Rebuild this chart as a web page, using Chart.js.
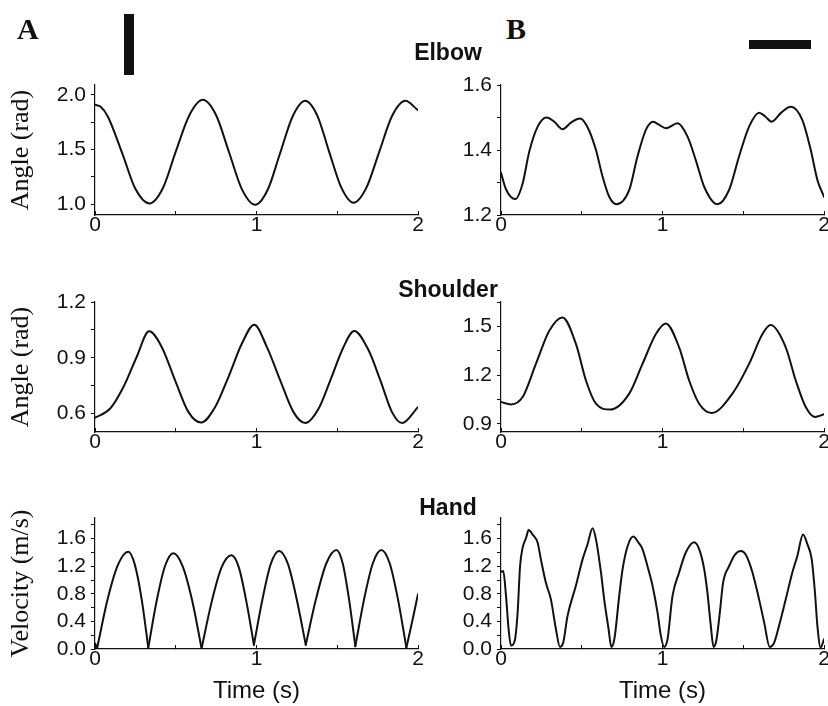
<!DOCTYPE html>
<html>
<head>
<meta charset="utf-8">
<script src="https://cdn.jsdelivr.net/npm/chart.js@4.4.1/dist/chart.umd.min.js"></script>
<style>
  html, body { margin: 0; padding: 0; background: #fff; overflow: hidden; }
  body { width: 828px; height: 706px; position: relative; }
  canvas { position: absolute; }
  .label { position: absolute; color: #111; white-space: nowrap; z-index: 2; }
  .joint { font: bold 23px "Liberation Sans", Arial, sans-serif; line-height: 23px; width: 200px; left: 348px; text-align: center; }
  .letter { font: bold 30px "Liberation Serif", "Times New Roman", serif; line-height: 30px; top: 14px; }
  .bar { position: absolute; background: #111; }
</style>
</head>
<body>

<canvas id="elbowA" width="440" height="190" style="left:0;top:60px"></canvas>
<canvas id="elbowB" width="400" height="190" style="left:440px;top:60px"></canvas>
<canvas id="shoulderA" width="440" height="190" style="left:0;top:277px"></canvas>
<canvas id="shoulderB" width="400" height="190" style="left:440px;top:277px"></canvas>
<canvas id="handA" width="440" height="213" style="left:0;top:493px"></canvas>
<canvas id="handB" width="400" height="213" style="left:440px;top:493px"></canvas>

<div class="label letter" style="left:17px">A</div>
<div class="label letter" style="left:506px">B</div>
<div class="bar" style="left:124px;top:14px;width:10px;height:61px"></div>
<div class="bar" style="left:749px;top:40px;width:62px;height:9px"></div>
<div class="label joint" style="top:41px">Elbow</div>
<div class="label joint" style="top:278px">Shoulder</div>
<div class="label joint" style="top:496px">Hand</div>

<script>
// Time axis, shared by all six panels
const timeTicks = [0, 0.5, 1, 1.5, 2];
const timeLabels = ['0', '', '1', '', '2'];

// Elbow angle (rad)
const elbowATime = [0, 0.035, 0.08, 0.17, 0.25, 0.337, 0.42, 0.50, 0.585, 0.667, 0.75, 0.83, 0.91, 0.992, 1.07, 1.147, 1.225, 1.302, 1.377, 1.45, 1.526, 1.601, 1.68, 1.76, 1.84, 1.921, 2.0];
const elbowAAngle = [1.91, 1.89, 1.80, 1.46, 1.14, 1.006, 1.145, 1.48, 1.815, 1.954, 1.813, 1.474, 1.135, 0.994, 1.133, 1.47, 1.806, 1.945, 1.808, 1.478, 1.148, 1.012, 1.148, 1.478, 1.808, 1.945, 1.86];
const elbowATicks = [1.0, 1.25, 1.5, 1.75, 2.0];
const elbowALabels = ['1.0', '', '1.5', '', '2.0'];

const elbowBTime = [0, 0.03, 0.089, 0.134, 0.175, 0.227, 0.282, 0.33, 0.381, 0.435, 0.489, 0.536, 0.588, 0.629, 0.67, 0.715, 0.794, 0.845, 0.897, 0.942, 0.98, 1.02, 1.093, 1.155, 1.206, 1.258, 1.34, 1.412, 1.474, 1.536, 1.598, 1.636, 1.676, 1.735, 1.794, 1.866, 1.918, 1.959, 2.0];
const elbowBAngle = [1.33, 1.28, 1.249, 1.297, 1.395, 1.472, 1.50, 1.487, 1.464, 1.485, 1.497, 1.47, 1.40, 1.318, 1.256, 1.233, 1.277, 1.38, 1.462, 1.487, 1.477, 1.467, 1.482, 1.441, 1.369, 1.287, 1.233, 1.277, 1.38, 1.472, 1.515, 1.503, 1.487, 1.515, 1.533, 1.492, 1.40, 1.308, 1.256];
const elbowBTicks = [1.2, 1.3, 1.4, 1.5, 1.6];
const elbowBLabels = ['1.2', '', '1.4', '', '1.6'];

// Shoulder angle (rad)
const shoulderATime = [0, 0.093, 0.176, 0.258, 0.335, 0.413, 0.496, 0.579, 0.657, 0.744, 0.826, 0.909, 0.986, 1.064, 1.147, 1.229, 1.302, 1.384, 1.457, 1.539, 1.605, 1.694, 1.767, 1.839, 1.901, 2.0];
const shoulderAAngle = [0.577, 0.625, 0.742, 0.904, 1.042, 0.958, 0.778, 0.607, 0.551, 0.634, 0.796, 0.975, 1.078, 0.958, 0.778, 0.607, 0.548, 0.625, 0.778, 0.958, 1.044, 0.94, 0.778, 0.607, 0.548, 0.634];
const shoulderATicks = [0.6, 0.75, 0.9, 1.05, 1.2];
const shoulderALabels = ['0.6', '', '0.9', '', '1.2'];

const shoulderBTime = [0, 0.062, 0.134, 0.216, 0.299, 0.381, 0.464, 0.526, 0.588, 0.676, 0.794, 0.876, 0.959, 1.02, 1.103, 1.165, 1.227, 1.305, 1.433, 1.536, 1.619, 1.67, 1.763, 1.825, 1.887, 1.944, 2.0];
const shoulderBAngle = [1.035, 1.02, 1.065, 1.269, 1.473, 1.555, 1.392, 1.167, 1.024, 0.988, 1.086, 1.269, 1.453, 1.518, 1.371, 1.167, 1.024, 0.967, 1.086, 1.269, 1.453, 1.508, 1.371, 1.167, 1.004, 0.943, 0.959];
const shoulderBTicks = [0.9, 1.05, 1.2, 1.35, 1.5, 1.65];
const shoulderBLabels = ['0.9', '', '1.2', '', '1.5', ''];

// Hand velocity (m/s)
const handATime = [0, 0.014, 0.078, 0.142, 0.206, 0.247, 0.289, 0.33, 0.382, 0.433, 0.485, 0.543, 0.602, 0.66, 0.722, 0.783, 0.845, 0.891, 0.938, 0.984, 1.036, 1.088, 1.14, 1.195, 1.25, 1.305, 1.368, 1.432, 1.495, 1.534, 1.573, 1.612, 1.666, 1.72, 1.773, 1.825, 1.876, 1.928, 1.964, 2.0];
const handASpeed = [0.08, 0.02, 0.72, 1.22, 1.41, 1.22, 0.72, 0.02, 0.70, 1.20, 1.39, 1.20, 0.70, 0.01, 0.68, 1.18, 1.36, 1.18, 0.68, 0.06, 0.71, 1.23, 1.42, 1.23, 0.71, 0.06, 0.72, 1.24, 1.436, 1.24, 0.72, 0.04, 0.72, 1.24, 1.436, 1.24, 0.72, 0.02, 0.40, 0.795];

const handBTime = [0, 0.014, 0.031, 0.047, 0.062, 0.085, 0.103, 0.118, 0.134, 0.155, 0.171, 0.196, 0.227, 0.247, 0.278, 0.309, 0.34, 0.365, 0.385, 0.412, 0.464, 0.505, 0.536, 0.567, 0.588, 0.619, 0.639, 0.666, 0.683, 0.703, 0.732, 0.753, 0.784, 0.819, 0.852, 0.876, 0.907, 0.938, 0.969, 0.99, 1.01, 1.031, 1.062, 1.103, 1.144, 1.196, 1.227, 1.258, 1.278, 1.299, 1.316, 1.333, 1.355, 1.375, 1.412, 1.449, 1.485, 1.515, 1.557, 1.598, 1.629, 1.664, 1.691, 1.722, 1.763, 1.804, 1.835, 1.87, 1.897, 1.924, 1.944, 1.959, 1.979, 2.0];
const handBSpeed = [1.12, 1.13, 0.77, 0.29, 0.05, 0.12, 0.53, 1.20, 1.47, 1.61, 1.725, 1.66, 1.54, 1.30, 0.96, 0.72, 0.29, 0.03, 0.09, 0.48, 0.92, 1.30, 1.52, 1.75, 1.59, 1.11, 0.72, 0.29, 0.03, 0.16, 0.77, 1.16, 1.49, 1.63, 1.54, 1.45, 1.20, 0.92, 0.53, 0.19, 0.03, 0.14, 0.77, 1.11, 1.40, 1.55, 1.45, 1.16, 0.82, 0.34, 0.03, 0.12, 0.53, 0.96, 1.20, 1.37, 1.42, 1.37, 1.11, 0.72, 0.39, 0.03, 0.09, 0.34, 0.72, 1.11, 1.35, 1.66, 1.52, 1.30, 0.82, 0.34, 0.02, 0.14];

const handTicks = [0, 0.2, 0.4, 0.6, 0.8, 1.0, 1.2, 1.4, 1.6, 1.8];
const handLabels = ['0.0', '', '0.4', '', '0.8', '', '1.2', '', '1.6', ''];

const ink = '#111';
const tickFont = { family: "'Liberation Sans', Arial, sans-serif", size: 21, lineHeight: 1 };

// join time and value arrays into {x, y} points
function toPoints(time, values) {
    return time.map((t, i) => ({ x: t, y: values[i] }));
}

// split a trace into pieces at its minima, so the hand speed keeps sharp V troughs
function splitAtTroughs(time, values) {
    const parts = [];
    let cur = [];
    for (let i = 0; i < time.length; i++) {
        cur.push({ x: time[i], y: values[i] });
        if (i > 0 && i < time.length - 1 && values[i] < values[i - 1] && values[i] < values[i + 1]) {
            parts.push(cur);
            cur = [{ x: time[i], y: values[i] }];
        }
    }
    parts.push(cur);
    return parts;
}

function drawPanel(id, pieces, p) {
    const ctx = document.getElementById(id).getContext('2d');
    new Chart(ctx, {
        type: 'line',
        data: {
            datasets: pieces.map(piece => ({
                data: piece,
                borderColor: ink,
                borderWidth: 2,
                pointRadius: 0,
                cubicInterpolationMode: 'monotone',
                borderCapStyle: 'round',
                borderJoinStyle: 'round'
            }))
        },
        options: {
            responsive: false,
            animation: false,
            events: [],
            layout: { padding: { left: 0, right: p.padRight, top: 25, bottom: 0 } },
            plugins: { legend: { display: false }, tooltip: { enabled: false } },
            scales: {
                x: {
                    type: 'linear',
                    min: 0,
                    max: 2,
                    afterBuildTicks: s => { s.ticks = timeTicks.map(v => ({ value: v })); },
                    afterFit: s => { s.height = p.xHeight; },
                    ticks: {
                        callback: (v, i) => timeLabels[i],
                        font: tickFont,
                        color: ink,
                        padding: 3.5,
                        maxRotation: 0,
                        autoSkip: false
                    },
                    grid: { drawOnChartArea: false, tickLength: -4, tickColor: ink, tickWidth: 1 },
                    border: { color: ink, width: 1.2 },
                    title: {
                        display: !!p.xTitle,
                        text: p.xTitle,
                        font: { family: "'Liberation Sans', Arial, sans-serif", size: 24 },
                        color: ink,
                        padding: { top: 0, bottom: 0 }
                    }
                },
                y: {
                    type: 'linear',
                    min: p.yMin,
                    max: p.yMax,
                    afterBuildTicks: s => { s.ticks = p.yTicks.map(v => ({ value: v })); },
                    afterFit: s => { s.width = p.yWidth; },
                    ticks: {
                        callback: (v, i) => p.yLabels[i],
                        font: tickFont,
                        color: ink,
                        padding: 5,
                        autoSkip: false
                    },
                    grid: { drawOnChartArea: false, tickLength: 4, tickColor: ink, tickWidth: 1 },
                    border: { color: ink, width: 1.2 },
                    title: {
                        display: !!p.yTitle,
                        text: p.yTitle,
                        font: { family: "'Liberation Serif', 'Times New Roman', serif", size: 26 },
                        color: ink,
                        padding: { top: 6, bottom: 0 }
                    }
                }
            }
        }
    });
}

const colA = { yWidth: 95, padRight: 22 };
const colB = { yWidth: 61, padRight: 16 };

drawPanel('elbowA', [toPoints(elbowATime, elbowAAngle)], Object.assign({}, colA, {
    yMin: 0.9, yMax: 2.09, yTicks: elbowATicks, yLabels: elbowALabels, yTitle: 'Angle (rad)', xHeight: 35
}));
drawPanel('elbowB', [toPoints(elbowBTime, elbowBAngle)], Object.assign({}, colB, {
    yMin: 1.2, yMax: 1.6, yTicks: elbowBTicks, yLabels: elbowBLabels, xHeight: 35
}));
drawPanel('shoulderA', [toPoints(shoulderATime, shoulderAAngle)], Object.assign({}, colA, {
    yMin: 0.5, yMax: 1.2, yTicks: shoulderATicks, yLabels: shoulderALabels, yTitle: 'Angle (rad)', xHeight: 35
}));
drawPanel('shoulderB', [toPoints(shoulderBTime, shoulderBAngle)], Object.assign({}, colB, {
    yMin: 0.85, yMax: 1.65, yTicks: shoulderBTicks, yLabels: shoulderBLabels, xHeight: 35
}));
drawPanel('handA', splitAtTroughs(handATime, handASpeed), Object.assign({}, colA, {
    yMin: 0, yMax: 1.9, yTicks: handTicks, yLabels: handLabels, yTitle: 'Velocity (m/s)', xTitle: 'Time (s)', xHeight: 57
}));
drawPanel('handB', [toPoints(handBTime, handBSpeed)], Object.assign({}, colB, {
    yMin: 0, yMax: 1.9, yTicks: handTicks, yLabels: handLabels, xTitle: 'Time (s)', xHeight: 57
}));
</script>
</body>
</html>
